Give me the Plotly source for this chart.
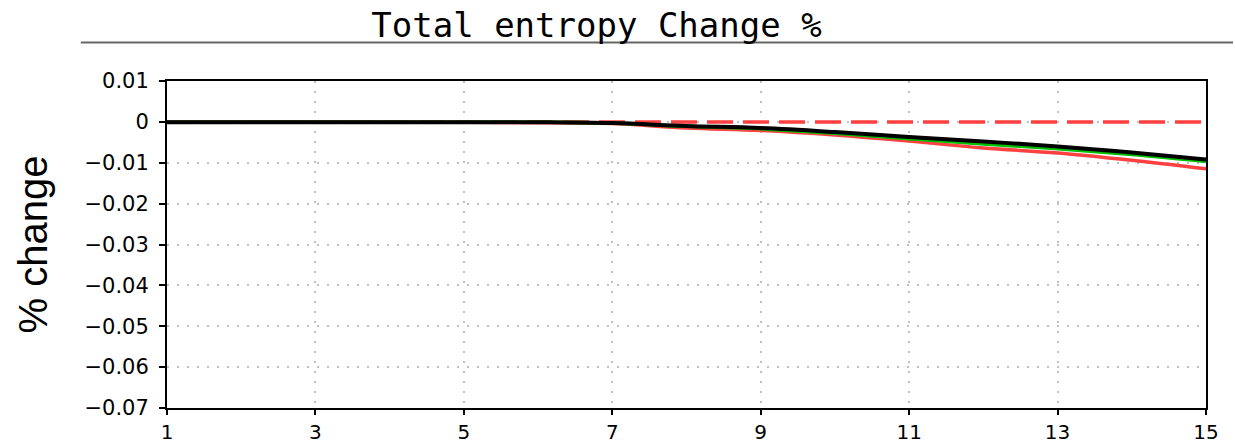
import plotly.graph_objects as go

x_vals = list(range(1, 16))
black_vals = [-0.0001, -0.0001, -0.0001, -0.0001, -0.0001, -0.0001, -0.0003, -0.0010, -0.0015, -0.0025, -0.0037, -0.0048, -0.0060, -0.0075, -0.0092]
green_vals = [-0.0001, -0.0001, -0.0001, -0.0001, -0.0001, -0.0001, -0.0003, -0.0011, -0.0017, -0.0028, -0.0041, -0.0054, -0.0066, -0.0080, -0.0097]
red_vals = [0.0000, 0.0000, 0.0000, -0.0001, -0.0001, -0.0002, -0.0004, -0.0015, -0.0021, -0.0032, -0.0047, -0.0064, -0.0076, -0.0094, -0.0115]
ref_vals = [0.0] * 15

x_ticks = [1, 3, 5, 7, 9, 11, 13, 15]
y_ticks = [0.01, 0, -0.01, -0.02, -0.03, -0.04, -0.05, -0.06, -0.07]
y_labels = ["0.01", "0", "\u22120.01", "\u22120.02", "\u22120.03", "\u22120.04", "\u22120.05", "\u22120.06", "\u22120.07"]

fig = go.Figure()
fig.add_trace(go.Scatter(x=x_vals, y=ref_vals, mode="lines",
                         line=dict(color="#ff4040", width=3.5, dash="26px,10px")))
fig.add_trace(go.Scatter(x=x_vals, y=red_vals, mode="lines", line=dict(color="#ff4040", width=3.5, shape="spline")))
fig.add_trace(go.Scatter(x=x_vals, y=green_vals, mode="lines", line=dict(color="#00c000", width=3.5, shape="spline")))
fig.add_trace(go.Scatter(x=x_vals, y=black_vals, mode="lines", line=dict(color="#000000", width=4, shape="spline")))

fig.update_layout(
    width=1235, height=443,
    margin=dict(l=167, r=29, t=81, b=35, autoexpand=False),
    paper_bgcolor="white", plot_bgcolor="white",
    showlegend=False,
    title=dict(text="Total entropy Change %", x=0.483, xanchor="center", y=0.943, yanchor="middle",
               font=dict(family="DejaVu Sans Mono", size=34, color="black")),
    font=dict(family="DejaVu Sans", color="black"),
    shapes=[dict(type="line", xref="paper", yref="paper", x0=-0.083, x1=1.026, y0=1.118, y1=1.118,
                 line=dict(color="#666666", width=2))],
)
fig.update_xaxes(range=[1, 15], tickvals=x_ticks, ticktext=[str(v) for v in x_ticks],
                 showgrid=True, gridcolor="#c0c0c0", griddash="2px,8px", gridwidth=1.5,
                 showline=True, linecolor="black", linewidth=2, mirror=True, automargin=False,
                 ticks="outside", ticklen=5, tickwidth=2, tickcolor="black", ticklabelstandoff=0,
                 tickfont=dict(size=20, family="DejaVu Sans"), zeroline=False)
fig.update_yaxes(range=[-0.07, 0.01], tickvals=y_ticks, ticktext=y_labels,
                 showgrid=True, gridcolor="#c0c0c0", griddash="2px,8px", gridwidth=1.5,
                 showline=True, linecolor="black", linewidth=2, mirror=True, automargin=False,
                 ticks="outside", ticklen=6, tickwidth=2, tickcolor="black", ticklabelstandoff=6,
                 tickfont=dict(size=21, family="DejaVu Sans"), zeroline=False,
                 title=dict(text="% change", font=dict(family="Liberation Sans", size=40), standoff=24))

fig.write_html("out.html")
